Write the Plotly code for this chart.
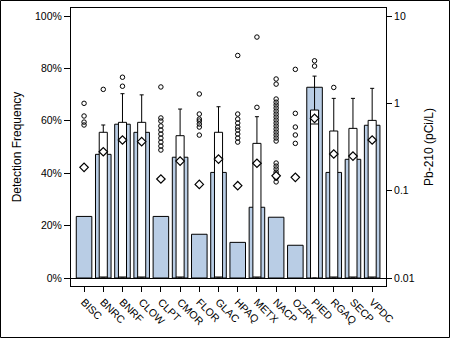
import plotly.graph_objects as go

# ---- data ----
categories = ["BISC", "BNRC", "BNRF", "CLOW", "CLPT", "CMOR", "FLOR", "GLAC",
              "HPAQ", "METX", "NACP", "OZRK", "PIED", "RGAQ", "SECP", "VPDC"]

# detection frequency (%), left axis
detect_freq = [23.5, 47.2, 58.7, 55.6, 23.5, 46.1, 16.7, 40.3,
               13.6, 27.0, 23.2, 12.5, 72.8, 40.3, 45.3, 58.3]

# mean Pb-210 (pCi/L), right axis
means = [0.185, 0.279, 0.38, 0.364, 0.136, 0.218, 0.118, 0.23,
         0.114, 0.206, 0.148, 0.142, 0.673, 0.263, 0.249, 0.38]

# box statistics (sites with a visible box)
box_sites = ["BNRC", "BNRF", "CLOW", "CMOR", "GLAC", "METX", "PIED", "RGAQ", "SECP", "VPDC"]
box_q1 = [0.01, 0.01, 0.01, 0.01, 0.01, 0.01, 0.01, 0.01, 0.01, 0.01]
box_median = [0.01, 0.01, 0.01, 0.01, 0.01, 0.01, 0.58, 0.01, 0.01, 0.01]
box_q3 = [0.466, 0.606, 0.606, 0.426, 0.466, 0.348, 0.838, 0.482, 0.517, 0.638]
box_upper = [0.565, 1.29, 1.25, 0.86, 0.914, 0.703, 2.05, 1.14, 1.14, 1.485]
box_lower = [0.01, 0.01, 0.01, 0.01, 0.01, 0.01, 0.01, 0.01, 0.01, 0.01]

# outliers per site
outliers = {
    "BISC": [1.0, 0.716, 0.61, 0.565],
    "BNRC": [1.445],
    "BNRF": [1.99, 1.57],
    "CLPT": [1.54, 0.68, 0.627, 0.55, 0.494, 0.445, 0.40, 0.36, 0.324, 0.292],
    "FLOR": [1.28, 0.754, 0.66, 0.627, 0.58, 0.535, 0.433],
    "HPAQ": [3.53, 0.754, 0.66, 0.594, 0.535, 0.494, 0.445, 0.40, 0.36],
    "METX": [5.74, 0.9],
    "NACP": [1.90, 1.66, 1.12, 1.03, 0.956, 0.884, 0.816, 0.754, 0.697, 0.644,
             0.595, 0.55, 0.508, 0.469, 0.434, 0.401, 0.37,
             0.207, 0.191, 0.177, 0.163, 0.151, 0.14, 0.126],
    "OZRK": [2.45, 0.768, 0.535, 0.434, 0.348],
    "PIED": [3.07, 2.67],
    "RGAQ": [1.52],
}

pct_ticks = [0, 20, 40, 60, 80, 100]
pct_labels = ["0%", "20%", "40%", "60%", "80%", "100%"]
log_ticks = [0.01, 0.1, 1, 10]
log_labels = ["0.01", "0.1", "1", "10"]

# ---- figure ----
FONT = "Liberation Sans, Arial, sans-serif"
fig = go.Figure()

fig.add_trace(go.Bar(
    x=categories, y=detect_freq, width=0.81,
    marker=dict(color="#B9CDE5", line=dict(color="black", width=1)),
    yaxis="y", hoverinfo="skip"))

fig.add_trace(go.Box(
    x=box_sites, q1=box_q1, median=box_median, q3=box_q3,
    lowerfence=box_lower, upperfence=box_upper,
    width=0.42, whiskerwidth=0.5, boxpoints=False,
    fillcolor="white", line=dict(color="black", width=1),
    yaxis="y2"))

ox, oy = [], []
for site, vals in outliers.items():
    for v in vals:
        ox.append(site)
        oy.append(v)
fig.add_trace(go.Scatter(
    x=ox, y=oy, mode="markers", yaxis="y2",
    marker=dict(symbol="circle-open", size=4.5, color="black", line=dict(width=1))))

fig.add_trace(go.Scatter(
    x=categories, y=means, mode="markers", yaxis="y2",
    marker=dict(symbol="diamond", size=6.5, color="white",
                line=dict(color="black", width=1.2))))

L, R, T, B = 71, 64, 8, 52
W, H = 450, 338
pw, ph = W - L - R, H - T - B

fig.update_layout(
    width=W, height=H,
    margin=dict(l=L, r=R, t=T, b=B, pad=0),
    paper_bgcolor="white", plot_bgcolor="white",
    showlegend=False,
    font=dict(family=FONT, size=10.5, color="black"),
    xaxis=dict(
        type="category", categoryorder="array", categoryarray=categories,
        range=[-0.68, 15.72], showgrid=False, zeroline=False,
        showline=True, linecolor="black", linewidth=1, mirror=True,
        ticks="outside", ticklen=5, tickcolor="black", tickwidth=1,
        tickangle=45, tickfont=dict(size=10.5)),
    yaxis=dict(
        range=[-3.053, 103.053], tickvals=pct_ticks, ticktext=pct_labels,
        showgrid=False, zeroline=True, zerolinecolor="black", zerolinewidth=1,
        showline=True, linecolor="black", linewidth=1,
        ticks="outside", ticklen=6, tickcolor="black",
        title=dict(text="Detection Frequency", font=dict(size=12), standoff=10),
        automargin=False),
    yaxis2=dict(
        type="log", overlaying="y", side="right",
        range=[-2.0916, 1.0916], tickvals=log_ticks, ticktext=log_labels,
        showgrid=False, zeroline=False,
        showline=True, linecolor="black", linewidth=1,
        ticks="outside", ticklen=5, tickcolor="black",
        title=dict(text="Pb-210 (pCi/L)", font=dict(size=12), standoff=10),
        automargin=False),
    shapes=[dict(
        type="rect", xref="paper", yref="paper",
        x0=(0.5 - L) / pw, x1=(W - 0.5 - L) / pw,
        y0=(ph + T - (H - 0.5)) / ph, y1=(ph + T - 0.5) / ph,
        line=dict(color="black", width=1), fillcolor="rgba(0,0,0,0)", layer="above")],
)

fig.write_html("out.html")
